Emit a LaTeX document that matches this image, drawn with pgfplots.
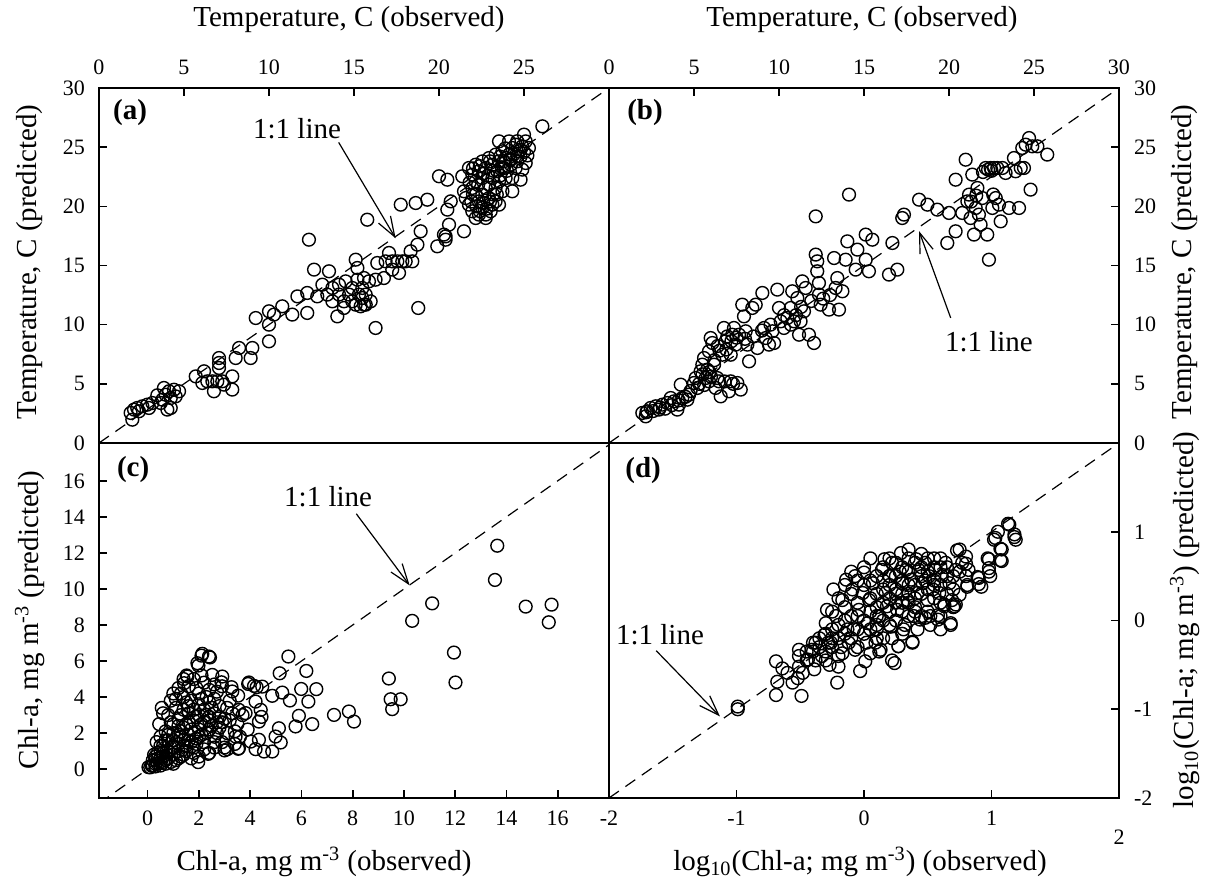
\documentclass[border=0pt]{standalone}
\usepackage{fontspec}
\setmainfont{Liberation Serif}
\usepackage{pgfplots}
\pgfplotsset{compat=1.18}
\usetikzlibrary{arrows.meta}
\pgfplotsset{
  panel/.style={
    scale only axis, width=255pt, height=177.5pt, anchor=south west,
    axis line style={line width=0.9pt},
    tick align=inside, major tick length=4pt,
    tick style={line width=0.8pt, black},
    tick label style={font=\fontsize{11}{13}\selectfont},
    /pgf/number format/assume math mode=true,
  },
  pts/.style={only marks, mark=o, mark size=3.2pt, mark options={line width=0.7pt}, black},
  oneline/.style={dash pattern=on 6pt off 4pt, line width=0.6pt, black},
}
\newcommand{\lab}{\fontsize{14.5}{17}\selectfont}
\begin{document}
\begin{tikzpicture}
\path[use as bounding box] (0,0) rectangle (603.5pt,441.5pt);

% ---------------- (a)
\begin{axis}[panel, at={(49.5pt,220pt)},
  xmin=0, xmax=30, ymin=0, ymax=30,
  xtick={0,5,...,25}, xtick pos=right, xticklabel pos=right,
  xticklabel style={yshift=3pt},
  ytick={0,5,...,30}, ytick pos=left, yticklabel pos=left,
  yticklabel style={xshift=-3.5pt}]
\addplot[oneline] coordinates {(0,0) (30,30)};
\addplot[pts] coordinates {
(1.96,1.97)(1.86,2.54)(2.06,2.82)(2.25,2.96)(2.35,2.68)(2.55,3.1)(2.84,3.24)(2.94,2.96)(3.14,3.38)(3.43,4.03)(3.63,3.38)(3.73,3.66)(3.82,4.65)(3.92,4.08)(4.02,2.82)(4.12,4.37)(4.22,3.8)(4.22,2.96)(4.41,4.5)(4.51,3.94)(4.71,4.37)
(5.69,5.63)(6.18,6.06)(6.08,5.07)(6.37,5.21)(6.67,5.21)(6.96,5.21)(7.25,5.21)(6.76,4.37)(7.06,6.76)(7.06,7.18)(7.06,6.34)(7.35,4.93)(7.84,5.63)(7.84,4.51)(8.04,7.18)(8.24,8.03)(8.92,7.18)(9.02,8.03)(9.22,10.56)(10,11.13)(10,10)(10,8.59)(10.29,10.85)(10.78,11.55)(11.37,10.85)(11.67,12.39)(12.25,12.68)(12.25,10.99)(12.35,17.18)(12.65,14.65)(12.84,12.39)(13.14,13.38)(13.43,12.54)(13.53,14.51)(13.73,13.1)(13.73,11.97)(14.02,10.7)(14.12,13.38)(14.12,12.54)(14.41,11.41)(14.41,11.97)(14.51,13.66)(14.71,12.54)(14.9,13.1)(15.1,15.49)(15.2,14.79)(15.2,13.8)(15.1,11.69)(15.29,12.54)(15.49,13.1)(15.59,13.94)(15.69,12.54)(15.69,11.69)(15.78,18.87)(15.88,13.66)(16.27,13.8)(16.27,9.72)(16.37,15.21)(16.76,13.94)(16.86,15.35)(17.06,16.06)(17.25,15.35)(17.25,14.65)(17.55,15.35)(17.65,14.37)(17.75,20.14)(17.84,15.35)(18.04,15.35)(18.33,16.2)(18.43,15.35)(18.63,20.28)(18.73,16.76)(18.78,11.41)(18.92,17.89)(19.31,20.56)(19.9,16.62)(20,22.54)(20.29,17.61)(20.39,17.18)(20.39,17.46)(20.49,22.25)(20.49,19.72)(20.59,18.45)(20.69,20.42)(21.37,22.54)(21.47,17.89)(21.47,21.27)
(15.49,12.25)(15.98,11.97)(14.9,11.97)(15.39,11.55)(15.59,11.69)
(21.76,23.24)(21.96,22.68)(22.16,23.52)(22.35,22.96)(22.55,23.8)(22.75,23.24)(22.94,24.08)(23.14,23.52)(23.33,24.37)(23.53,23.8)(23.73,24.65)(23.92,24.08)(24.12,24.37)(24.31,24.93)(24.51,25.21)(24.71,24.65)(24.9,25.07)(25.1,25.49)(25.29,24.93)(25,26.06)(23.53,25.49)(21.96,21.55)(22.16,20.99)(22.35,20.42)(22.55,19.86)(22.75,19.3)(21.96,19.58)(22.16,19.01)(22.35,19.3)(22.55,20.99)(22.94,20.7)(23.14,20.14)(23.33,21.55)(23.53,22.11)(23.73,21.27)(22.94,21.83)(21.57,20.7)(21.76,20.14)(23.14,22.39)(23.92,22.39)(24.31,21.27)(24.31,22.39)(24.8,22.25)(24.51,23.24)(24.9,23.1)(25.1,23.66)(24.12,25.49)(22.75,19.01)(23.04,19.58)(23.33,20.42)(23.53,20.14)(22.16,22.11)(22.55,22.39)(22.75,21.55)(23.43,22.96)(23.82,23.24)(24.22,23.52)(24.61,24.23)(24.8,24.79)(26.08,26.76)
(21.8,22.0)(22.0,21.0)(22.3,21.8)(22.6,22.8)(22.9,22.6)(23.2,23.0)(23.4,21.0)(23.6,22.6)(23.8,23.8)(24.0,23.0)(24.2,24.0)(24.4,24.4)(24.6,23.8)(24.8,24.2)(25.0,24.6)(22.4,19.6)(22.8,19.8)(23.0,20.4)(22.6,20.3)(23.2,21.0)(21.9,20.4)(22.2,20.0)(23.6,24.2)(23.0,23.8)(22.4,23.4)(22.0,23.2)(23.9,24.9)(24.6,25.5)(24.2,23.9)(23.7,23.3)(25.2,24.3)
};
\node[font=\lab] at (axis cs:11.65,26.6) {1:1 line};
\draw[line width=0.6pt,-{Straight Barb[length=10pt,width=7pt]}] (axis cs:14.1,25.4) -- (axis cs:17.45,17.3);
\node[font=\lab\bfseries] at (rel axis cs:0.061,0.932) {(a)};
\end{axis}

% ---------------- (b)
\begin{axis}[panel, at={(304.5pt,220pt)},
  xmin=0, xmax=30, ymin=0, ymax=30,
  xtick={0,5,...,30}, xtick pos=right, xticklabel pos=right,
  xticklabel style={yshift=3pt},
  ytick={0,5,...,30}, ytick pos=right, yticklabel pos=right,
  yticklabel style={xshift=4pt}]
\addplot[oneline] coordinates {(0,0) (30,30)};
\addplot[pts] coordinates {
(1.96,2.54)(2.16,2.25)(2.25,2.68)(2.45,2.96)(2.75,3.1)(2.94,2.82)(3.14,3.24)(3.43,3.38)(3.63,3.8)(3.82,3.52)(4.02,2.82)(4.12,3.24)(4.22,4.93)(4.31,3.8)(4.61,3.66)(4.71,4.08)(5,5.07)(5.1,5.49)(5.2,4.65)(5.39,6.06)(5.49,6.62)(5.59,7.18)(5.69,5.49)(5.78,6.2)(5.88,5.21)(5.88,7.75)(5.98,8.87)(6.08,8.45)(6.18,6.62)(6.27,4.65)(6.37,5.49)(6.47,5.21)(6.57,3.94)(6.67,7.46)(6.76,9.72)(6.86,8.59)(6.96,9.01)(7.06,4.37)(7.16,5.21)(7.16,7.46)(7.25,9.15)(7.35,9.72)(7.45,8.31)(7.55,5.07)(7.65,9.15)(7.75,4.51)(7.84,11.69)(7.94,10.7)(8.04,9.44)(8.14,8.31)(8.24,6.9)(8.43,11.41)(8.63,11.69)(8.73,8.03)(9.02,12.68)(9.12,9.72)(9.22,8.87)(9.41,8.31)(9.61,9.44)(9.71,8.45)(9.9,12.96)(10,11.41)(10.1,10.28)(10.29,9.72)(10.49,10.56)(10.69,11.41)(10.78,12.82)(10.88,10.28)(11.08,12.25)(11.18,9.15)(11.27,10.28)(11.37,13.66)(11.47,11.13)(11.57,13.1)(11.76,9.15)(12.06,8.45)(12.16,19.15)(12.16,15.92)(12.25,15.35)(12.25,14.51)(12.35,13.52)(12.35,12.54)(12.45,11.69)(12.94,11.27)(13.24,15.63)(13.33,13.1)(13.43,13.94)(13.53,11.27)(13.73,12.82)(13.92,15.49)(14.02,17.04)(14.12,20.99)(14.51,14.65)(14.61,16.34)(15.1,17.61)(15.1,15.49)(15.29,14.51)(15.49,17.18)(16.47,14.23)(16.67,16.9)(16.96,14.65)(17.25,19.01)(17.35,19.3)(18.24,20.56)(18.73,20.14)(19.31,19.72)(19.9,16.9)(20,19.44)(20.39,17.89)(20.39,22.25)(20.78,19.44)(20.98,23.94)(21.08,20.42)(21.18,20.99)(21.27,19.01)(21.37,22.68)(21.47,17.61)(21.57,19.86)(21.67,21.55)(21.76,19.3)(21.86,18.45)(21.96,20.7)(22.16,23.24)(22.25,17.61)(22.35,15.49)(22.45,23.24)(22.55,19.86)(22.65,23.24)(22.75,20.7)(22.84,23.24)(22.94,20.14)(23.04,18.73)(23.14,23.24)(23.33,22.82)(23.53,19.86)(23.82,24.08)(23.92,22.96)(24.12,19.86)(24.22,23.24)(24.31,24.93)(24.41,23.24)(24.51,25.21)(24.71,25.77)(24.8,21.41)(24.9,25.07)(25.2,25.07)(25.78,24.37)
(22.0,22.9)(22.5,23.0)(22.3,23.1)(21.3,20.4)(21.6,20.9)(22.6,21.0)
(2.2,2.6)(2.6,2.7)(3.0,3.0)(3.3,2.9)(3.7,3.2)(4.1,3.6)(4.5,3.9)(4.8,4.4)(5.3,5.0)(5.5,5.8)(5.9,6.0)(6.2,7.0)(6.5,7.8)(6.9,7.9)(7.2,8.6)(7.5,8.9)(6.4,8.2)(6.0,5.6)(5.6,4.9)(6.8,5.2)(7.3,5.0)(8.0,8.8)(8.5,9.0)(9.0,9.5)(9.5,10.0)(10.3,10.8)(10.7,10.0)(11.0,10.8)(11.3,11.5)(11.9,12.0)(12.6,12.2)(13.0,12.5)
};
\node[font=\lab] at (axis cs:22.35,8.54) {1:1 line};
\draw[line width=0.6pt,-{Straight Barb[length=10pt,width=7pt]}] (axis cs:20.1,10.57) -- (axis cs:18.24,17.9);
\node[font=\lab\bfseries] at (rel axis cs:0.0706,0.932) {(b)};
\end{axis}

% ---------------- (c)
\begin{axis}[panel, at={(49.5pt,42.5pt)},
  xmin=-1.9, xmax=18, ymin=-1.6, ymax=18.1,
  xtick={0,2,...,16}, xtick pos=left, xticklabel pos=left,
  xticklabel style={yshift=-3pt},
  ytick={0,2,...,16}, ytick pos=left, yticklabel pos=left,
  yticklabel style={xshift=-3.5pt}]
\addplot[oneline] coordinates {(-1.9,-1.9) (18.1,18.1)};
\addplot[pts] coordinates {
(13.64,12.4)(13.55,10.5)(11.1,9.2)(10.32,8.23)(14.75,9.02)(15.76,9.13)(15.65,8.15)(11.95,6.47)(12.01,4.81)(9.41,5.03)(9.48,3.88)(9.87,3.88)(9.54,3.33)(7.27,3.01)(7.85,3.2)(8.05,2.64)(5.49,6.25)(5.15,5.32)(6.19,5.45)(5.99,4.45)(6.58,4.44)(6.27,3.75)(5.9,2.96)(5.77,2.37)(6.42,2.5)(5.55,3.81)(5.25,4.25)(4.86,4.07)(5.12,2.27)(4.99,1.81)(5.19,1.48)(4.86,0.98)(4.54,0.98)(4.21,1.11)(4.34,1.63)(4.02,1.53)(3.56,1.16)(3.11,1.11)(3.95,4.81)(4.15,4.62)(4.47,4.58)(4.21,3.75)(4.41,3.29)(4.34,2.64)(3.82,3.11)(3.43,1.81)(3.56,3.29)(3.3,4.31)(2.91,5.14)(2.52,5.23)(2.13,6.4)(2.39,6.25)(1.94,5.88)(1.55,5.14)(1.42,4.77)
(0.1,0.1)(0.2,0.2)(0.3,0.15)(0.4,0.3)(0.5,0.2)(0.6,0.4)(0.3,0.5)(0.5,0.6)(0.7,0.3)(0.8,0.6)(0.9,0.4)(1.0,0.8)(0.7,0.9)(0.5,1.0)(0.9,1.2)(1.1,0.5)(1.2,1.0)(1.3,0.7)(1.4,1.3)(1.1,1.5)(0.8,1.6)(0.6,1.3)(1.0,2.0)(1.3,1.8)(1.5,1.0)(1.6,1.6)(1.7,2.2)(1.5,2.5)(1.2,2.4)(0.9,2.6)(0.7,2.1)(0.5,1.8)(1.8,1.2)(2.0,1.8)(2.1,2.5)(1.9,2.9)(1.6,3.1)(1.3,3.0)(1.1,3.4)(0.8,3.0)(2.3,3.0)(2.4,2.2)(2.2,1.5)(2.6,1.8)(2.7,2.6)(2.5,3.4)(2.0,3.6)(1.7,3.8)(1.4,4.0)(1.0,4.2)(0.6,3.1)(1.2,4.5)(1.6,4.6)(2.0,4.2)(2.3,4.0)(2.8,3.5)(3.0,2.8)(3.1,2.0)(2.9,1.5)(2.6,1.2)(3.3,3.1)(3.5,2.5)(3.2,3.8)(2.7,4.3)(1.8,5.0)(2.1,5.2)(1.4,5.0)(0.9,3.8)(3.7,3.0)(3.9,2.2)(3.6,1.8)(2.4,0.9)(2.0,0.7)(1.7,0.6)(3.0,1.2)(0.4,0.9)(0.3,0.3)(0.15,0.2)(0.6,0.7)(1.9,1.4)(2.4,2.7)(1.3,2.1)(3.4,1.4)(2.8,2.3)(3.1,3.4)(2.6,4.7)(2.9,4.6)(1.98,5.75)(2.1,6.3)(2.43,6.2)(1.52,5.2)(2.88,4.82)(3.27,4.55)(3.53,4.08)(4.44,2.9)(4.25,4.55)(3.92,4.73)(1.97,0.39)(2.36,0.85)(3.0,1.04)(3.53,1.13)(0.03,0.11)(0.55,3.4)(0.45,2.5)(0.35,1.5)(0.25,0.8)
(0.2,0.5)(0.4,0.6)(0.6,0.9)(0.8,1.0)(1.0,1.2)(1.2,1.4)(1.4,1.6)(1.6,1.9)(1.8,2.0)(2.0,2.2)(2.2,2.6)(2.4,2.9)(2.6,3.1)(2.8,2.9)(1.0,1.6)(1.2,1.9)(1.4,2.3)(1.6,2.6)(1.8,2.7)(2.0,3.0)(2.2,3.3)(0.8,1.9)(1.0,2.5)(1.2,2.8)(1.4,3.3)(1.6,3.5)(1.8,3.3)(2.1,3.9)(2.4,3.7)(2.6,3.9)(1.5,1.3)(1.7,1.5)(1.9,1.7)(2.1,1.9)(2.3,2.0)(2.5,2.4)(2.7,2.0)(2.9,2.6)(3.2,2.7)(3.4,2.1)(1.2,0.6)(1.4,0.8)(1.0,0.3)(0.7,0.5)(1.8,0.9)(2.2,1.1)(2.6,1.5)(0.3,0.7)(0.5,1.3)(0.7,1.6)(1.5,3.7)(1.9,4.5)(2.4,4.4)(2.2,4.8)(1.3,4.2)(1.1,3.9)
};
\node[font=\lab] at (axis cs:7.04,15.12) {1:1 line};
\draw[line width=0.6pt,-{Straight Barb[length=10pt,width=7pt]}] (axis cs:8.14,14.17) -- (axis cs:10.22,10.2);
\node[font=\lab\bfseries] at (rel axis cs:0.067,0.924) {(c)};
\end{axis}

% ---------------- (d)
\begin{axis}[panel, at={(304.5pt,42.5pt)},
  xmin=-2, xmax=2, ymin=-2, ymax=2,
  xtick={-2,-1,0,1}, xticklabels={-2,-1,0,1}, xtick pos=left, xticklabel pos=left,
  xticklabel style={yshift=-3pt},
  ytick={-2,-1,0,1}, yticklabels={-2,-1,0,1}, ytick pos=right, yticklabel pos=right,
  yticklabel style={xshift=4pt}]
\addplot[oneline] coordinates {(-2,-2) (2,2)};
\addplot[pts] coordinates {
(-0.99,-1.0)(-0.99,-0.97)(-0.69,-0.84)(-0.68,-0.69)(-0.69,-0.46)(-0.64,-0.54)(-0.6,-0.59)(-0.56,-0.7)(-0.52,-0.65)(-0.49,-0.85)(-0.51,-0.33)(-0.51,-0.4)(-0.51,-0.52)(-0.48,-0.59)(-0.44,-0.44)(-0.41,-0.33)(-0.39,-0.55)(-0.38,-0.25)(-0.33,-0.4)(-0.31,-0.16)(-0.3,-0.03)(-0.29,0.12)(-0.27,-0.5)(-0.26,-0.25)(-0.25,-0.1)(-0.24,0.35)(-0.22,0.05)(-0.21,-0.7)(-0.2,-0.52)(-0.17,-0.37)(-0.17,0.23)(-0.14,0.46)(-0.13,-0.1)(-0.12,-0.25)(-0.1,0.05)(-0.09,0.35)(-0.07,0.5)(-0.07,-0.33)(-0.05,-0.1)(-0.04,0.12)(-0.03,-0.57)(-0.01,0.31)(0.0,0.54)(0.01,-0.46)(0.03,-0.03)(0.04,0.23)(0.05,-0.37)(0.07,0.42)(0.09,-0.25)(0.1,-0.1)(0.12,0.05)(0.13,-0.33)(0.14,0.57)(0.16,0.69)(0.17,0.31)(0.18,0.16)(0.2,0.5)(0.21,-0.07)(0.22,0.65)(0.24,-0.48)(0.25,0.35)(0.26,0.12)(0.27,-0.29)(0.29,0.76)(0.3,0.42)(0.31,-0.1)(0.33,0.57)(0.34,0.23)(0.35,0.8)(0.37,0.46)(0.38,-0.25)(0.39,0.05)(0.41,0.69)(0.42,0.31)(0.43,0.57)(0.44,0.01)(0.46,0.42)(0.48,0.65)(0.5,0.23)(0.51,0.5)(0.52,0.05)(0.54,0.35)(0.56,0.57)(0.58,0.01)(0.59,0.31)(0.61,0.5)(0.63,0.16)(0.64,0.65)(0.67,0.42)(0.68,-0.05)(0.69,0.23)(0.71,0.16)(0.72,0.57)(0.75,0.8)(0.77,0.65)(0.8,0.72)(0.81,0.38)(0.82,0.57)(0.9,0.48)(0.92,0.38)(0.98,0.69)(0.98,0.55)(0.99,0.5)(1.03,0.93)(1.05,1.0)(1.08,0.8)(1.08,0.67)(1.14,1.08)(1.18,0.97)(1.19,0.91)
(0.1,0.3)(0.2,0.4)(0.15,0.6)(0.3,0.3)(0.35,0.55)(0.45,0.6)(0.55,0.45)(0.6,0.6)(0.25,0.2)(0.4,0.15)(0.05,0.1)(0.0,0.4)(-0.05,0.2)(0.5,0.35)(0.3,0.45)(0.2,0.5)(0.4,0.4)(0.65,0.5)(0.7,0.35)(0.1,-0.05)(-0.1,0.3)(-0.15,0.15)(0.25,0.65)(0.45,0.75)(0.35,0.7)(0.55,0.7)(0.15,0.0)(0.3,0.1)(0.45,0.05)(0.6,0.2)(-0.2,-0.2)(-0.25,-0.3)(-0.3,-0.15)(-0.35,-0.3)(-0.4,-0.35)(-0.3,-0.45)(-0.2,-0.4)(-0.1,-0.2)(0.0,-0.15)(-0.05,-0.3)(0.15,-0.2)(0.3,-0.15)(0.2,-0.05)(-0.45,-0.45)(-0.15,0.0)(-0.25,0.1)(0.5,0.55)(0.4,0.25)(0.1,0.15)(0.25,0.3)(0.6,0.4)(0.05,0.45)(0.35,0.2)(0.2,0.25)
(1.13,1.09)(1.02,0.91)(1.07,0.81)(1.07,0.68)(1.18,0.94)(0.97,0.7)(0.98,0.59)(0.89,0.49)(0.9,0.41)(0.81,0.4)(0.73,0.79)(0.8,0.64)(0.75,0.29)(0.72,0.18)(0.68,-0.03)(0.63,0.18)(0.38,-0.24)(0.27,-0.29)(0.22,-0.45)(0.48,0.03)(0.58,0.06)
(-0.2,0.25)(-0.15,0.4)(-0.1,0.55)(-0.05,0.45)(0.0,0.6)(0.05,0.7)(0.1,0.5)(0.15,0.35)(0.2,0.7)(0.25,0.5)(0.3,0.6)(0.35,0.4)(0.4,0.65)(0.45,0.5)(0.5,0.7)(0.55,0.6)(0.6,0.7)(0.65,0.6)(0.7,0.5)(0.75,0.55)(0.8,0.5)(0.05,0.25)(0.1,0.05)(0.15,0.2)(0.2,0.1)(0.25,0.0)(0.3,0.2)(0.35,0.05)(0.4,0.1)(0.45,0.3)(0.5,0.1)(0.55,0.25)(0.6,0.05)(0.65,0.3)(0.7,0.15)(0.0,0.0)(-0.05,0.05)(0.05,-0.1)(0.1,-0.2)(-0.15,-0.15)(-0.2,-0.05)(-0.25,-0.2)(-0.3,-0.35)(-0.35,-0.2)(-0.4,-0.25)(-0.45,-0.35)(-0.38,-0.45)(-0.28,-0.25)(-0.18,-0.3)(-0.08,-0.1)(0.02,-0.25)(0.12,-0.35)(0.22,-0.2)(0.32,-0.05)(0.42,-0.1)(0.52,-0.05)(0.6,-0.1)(0.55,0.4)(0.35,0.3)(0.15,0.45)(0.28,0.55)(0.48,0.45)
};
\node[font=\lab] at (axis cs:-1.6,-0.165) {1:1 line};
\draw[line width=0.6pt,-{Straight Barb[length=10pt,width=7pt]}] (axis cs:-1.63,-0.34) -- (axis cs:-1.13,-1.08);
\node[font=\lab\bfseries] at (rel axis cs:0.067,0.923) {(d)};
\end{axis}

% ---------------- outer labels
\node[font=\fontsize{11}{13}\selectfont] at (559.5pt,23pt) {2};
\node[font=\lab] at (174.5pt,431.5pt) {Temperature, C (observed)};
\node[font=\lab] at (431pt,431.5pt) {Temperature, C (observed)};
\node[font=\lab, rotate=90] at (15pt,310.5pt) {Temperature, C (predicted)};
\node[font=\lab, rotate=90] at (15pt,131.5pt) {Chl-a, mg m\textsuperscript{-3} (predicted)};
\node[font=\lab, rotate=90] at (592.5pt,310.5pt) {Temperature, C (predicted)};
\node[font=\lab, rotate=90] at (592.5pt,131.5pt) {log\textsubscript{10}(Chl-a; mg m\textsuperscript{-3}) (predicted)};
\node[font=\lab] at (162pt,10.5pt) {Chl-a, mg m\textsuperscript{-3} (observed)};
\node[font=\lab] at (430pt,10.5pt) {log\textsubscript{10}(Chl-a; mg m\textsuperscript{-3}) (observed)};
\end{tikzpicture}
\end{document}
